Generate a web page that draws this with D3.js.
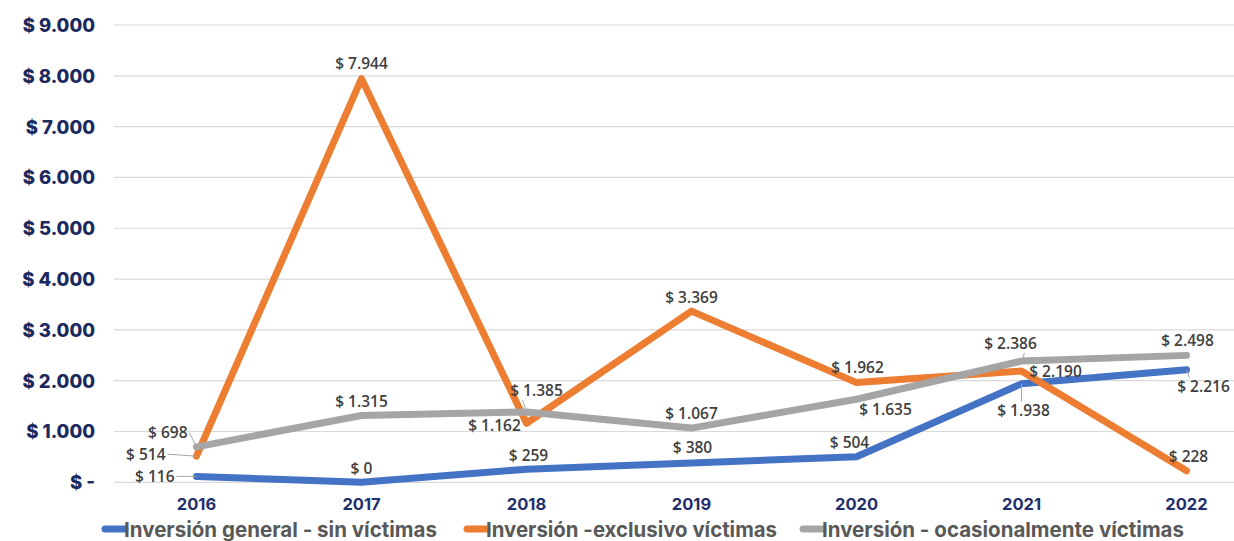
<!DOCTYPE html>
<html><head><meta charset="utf-8">
<script src="https://cdn.jsdelivr.net/npm/d3@7"></script>
<style>html,body{margin:0;padding:0;background:#fff;}svg{display:block;}</style>
</head><body>
<svg id="c" width="1234" height="541"></svg>
<script>
// ---- data ----
const years = ["2016","2017","2018","2019","2020","2021","2022"];
const seriesNames = ["Inversión general - sin víctimas","Inversión -exclusivo víctimas","Inversión - ocasionalmente víctimas"];
const generalSinVictimas = [116, 0, 259, 380, 504, 1938, 2216];
const exclusivoVictimas = [514, 7944, 1162, 3369, 1962, 2190, 228];
const ocasionalVictimas = [698, 1315, 1385, 1067, 1635, 2386, 2498];
const yTicks = [0,1000,2000,3000,4000,5000,6000,7000,8000,9000];
const yTickLabels = ["$ -","$ 1.000","$ 2.000","$ 3.000","$ 4.000","$ 5.000","$ 6.000","$ 7.000","$ 8.000","$ 9.000"];

// ---- layout / style (not data) ----
const colors = ["#4472C4","#ED7D31","#A5A5A5"];
// label placement: [dx, dy, anchor, leader]
const labelPlace = [
  [[-22,0,"end",true],[0,-14,"middle",false],[2,-14,"middle",false],[1,-15,"middle",false],[-7,-14,"middle",false],[2,27,"middle",true],[17,17,"middle",true]],
  [[-31,-2,"end",true],[0,-15,"middle",false],[-32,2,"middle",false],[0,-14,"middle",false],[1,-15,"middle",false],[34,1,"middle",false],[2,-14,"middle",false]],
  [[-9,-14,"end",true],[0,-14,"middle",false],[10,-21,"middle",true],[0,-15,"middle",false],[29,10,"middle",false],[-11,-17,"middle",true],[1,-15,"middle",false]]
];

const svg = d3.select("#c");
const x = d3.scaleBand().domain(years).range([114, 1269]);
const cx = d => x(d) + x.bandwidth()/2;
const y = d3.scaleLinear().domain([0, 9000]).range([482.3, 25]);

// grid
svg.append("g").selectAll("line").data(yTicks).join("line")
  .attr("x1",114).attr("x2",1234)
  .attr("y1",d=>y(d)).attr("y2",d=>y(d))
  .attr("stroke","#d9d9d9").attr("stroke-width",1.2);

// y axis labels
const yAxis = d3.axisLeft(y).tickValues(yTicks).tickFormat((d,i)=>yTickLabels[i]).tickSize(0).tickPadding(0);
const ga = svg.append("g").attr("transform","translate(95,0)").call(yAxis);
ga.select(".domain").remove();
ga.selectAll("text").attr("font-family","Inter, 'Open Sans', sans-serif").attr("font-weight",800)
  .attr("font-size",18.5).attr("fill","#1b2a5e").attr("dy","0.35em");

// x axis labels
const xAxis = d3.axisBottom(x).tickSize(0).tickPadding(0);
const gx = svg.append("g").attr("transform","translate(0,504)").call(xAxis);
gx.select(".domain").remove();
gx.selectAll("text").attr("font-family","Inter, 'Open Sans', sans-serif").attr("font-weight",700)
  .attr("font-size",16.5).attr("fill","#1f2f6b").attr("dy","0.35em");

const allSeries = [generalSinVictimas, exclusivoVictimas, ocasionalVictimas];
const line = d3.line().x((d,i)=>cx(years[i])).y(d=>y(d));

[0,1,2].forEach(s=>{
  svg.append("path").datum(allSeries[s]).attr("d",line)
    .attr("fill","none").attr("stroke",colors[s]).attr("stroke-width",7)
    .attr("stroke-linejoin","round").attr("stroke-linecap","round");
});

// labels
const fmt = v => "$ " + d3.format(",")(v).replace(/,/g,".");
allSeries.forEach((vals,s)=>{
  vals.forEach((v,i)=>{
    const px = cx(years[i]), py = y(v);
    const [dx,dy,anchor,leader] = labelPlace[s][i];
    const tx = px+dx, ty = py+dy;
    if(leader){
      let lx1, ly1;
      if(anchor==="end"){ lx1 = tx+2; ly1 = ty; }
      else if(Math.abs(dx)<4){ lx1 = px; ly1 = ty + (dy>0 ? -9 : 9); }
      else { lx1 = tx + (dx>0 ? -14 : 14); ly1 = ty + (dy>0 ? -9 : 9); }
      svg.append("line").attr("x1",lx1).attr("y1",ly1).attr("x2",px).attr("y2",py)
        .attr("stroke","#a6a6a6").attr("stroke-width",1);
    }
    svg.append("text").attr("x",tx).attr("y",ty).attr("dy","0.35em")
      .attr("text-anchor",anchor)
      .attr("font-family","'Open Sans', 'Noto Sans', sans-serif").attr("font-weight",600)
      .attr("font-size",15.5).attr("fill","#404040").text(fmt(v));
  });
});

// legend
const legendX = [105, 467, 803];
const legendW = [313, 291, 362];
seriesNames.forEach((n,s)=>{
  svg.append("line").attr("x1",legendX[s]).attr("x2",legendX[s]+20).attr("y1",529).attr("y2",529)
    .attr("stroke",colors[s]).attr("stroke-width",7).attr("stroke-linecap","round");
  svg.append("text").attr("x",legendX[s]+19).attr("y",530).attr("dy","0.35em")
    .attr("font-family","Inter, 'Open Sans', sans-serif").attr("font-weight",700)
    .attr("font-size",20.5).attr("fill","#595959")
    .attr("textLength",legendW[s]).attr("lengthAdjust","spacingAndGlyphs").text(n);
});
</script>
</body></html>
